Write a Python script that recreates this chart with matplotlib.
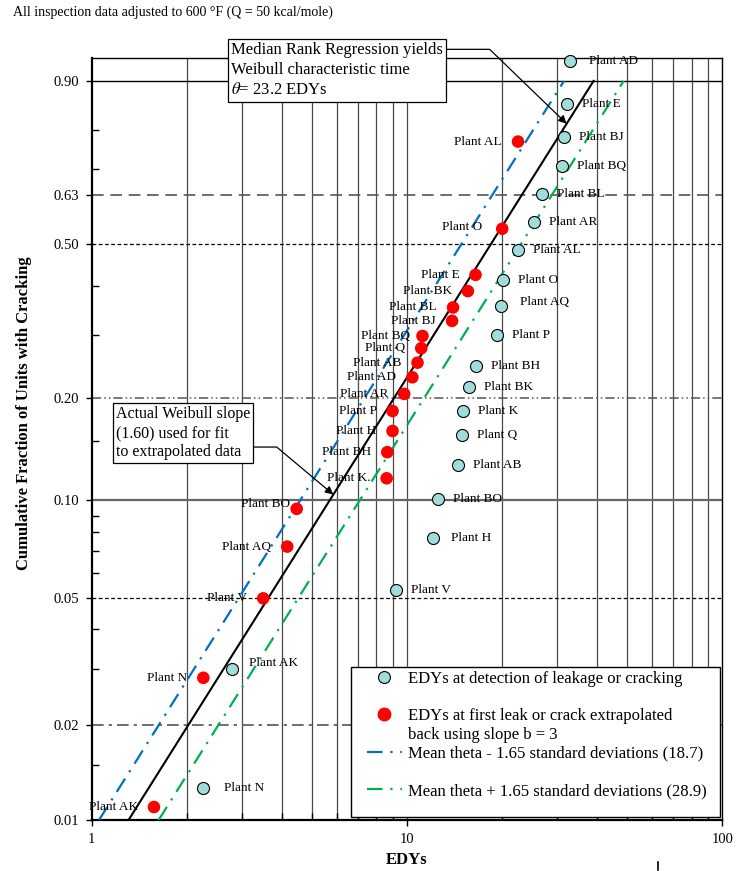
import numpy as np
import matplotlib.pyplot as plt
from matplotlib.lines import Line2D
from matplotlib.patches import Rectangle
from matplotlib.ticker import FixedLocator, NullFormatter, FixedFormatter

plt.rcParams['font.family'] = ['Liberation Serif', 'DejaVu Serif']
plt.rcParams['mathtext.fontset'] = 'stix'

# EDYs at detection of leakage or cracking (cumulative fraction by median rank)
det_plants = ['AD', 'E', 'BJ', 'BQ', 'BL', 'AR', 'AL', 'O', 'AQ', 'P',
              'BH', 'BK', 'K', 'Q', 'AB', 'BO', 'H', 'V', 'AK', 'N']
det_edy = [32.9, 32.2, 31.5, 31.1, 26.9, 25.2, 22.5, 20.1, 19.9, 19.3,
           16.6, 15.7, 15.1, 15.0, 14.5, 12.5, 12.1, 9.2, 2.78, 2.25]
det_frac = [0.930, 0.857, 0.782, 0.708, 0.633, 0.559, 0.486, 0.413, 0.355, 0.299,
            0.247, 0.215, 0.184, 0.157, 0.128, 0.101, 0.077, 0.053, 0.030, 0.0126]

# EDYs at first leak/crack, extrapolated back with slope b = 3
ext_plants = ['AL', 'O', 'E', 'BK', 'BL', 'BJ', 'BQ', 'Q', 'AB', 'AD',
              'AR', 'P', 'H', 'BH', 'K.', 'BO', 'AQ', 'V', 'N', 'AK']
ext_edy = [22.5, 20.05, 16.5, 15.6, 14.0, 13.9, 11.2, 11.1, 10.8, 10.4,
           9.8, 9.0, 9.0, 8.66, 8.62, 4.47, 4.17, 3.50, 2.26, 1.576]
ext_frac = [0.771, 0.540, 0.425, 0.388, 0.353, 0.326, 0.2975, 0.2757, 0.2518, 0.2294,
            0.206, 0.184, 0.161, 0.1395, 0.1166, 0.0943, 0.0723, 0.050, 0.0282, 0.011]

# Weibull fits
beta = 1.60
theta_fit = 23.2
theta_lo = 18.7
theta_hi = 28.9

y_major = [0.01, 0.02, 0.05, 0.10, 0.20, 0.50, 0.63, 0.90]
y_minor = [0.015, 0.03, 0.04, 0.06, 0.07, 0.08, 0.09, 0.15, 0.3, 0.4, 0.7, 0.8]
x_grid = [2, 3, 4, 5, 6, 7, 8, 9, 10, 20, 30, 40, 50, 60, 70, 80, 90]

cyan = '#9FDCDA'
blue = '#0070C0'
green = '#00B050'


def weibull_fwd(f):
    f = np.clip(np.asarray(f, dtype=float), 1e-9, 1 - 1e-9)
    return np.log(-np.log1p(-f))


def weibull_inv(w):
    return -np.expm1(-np.exp(np.asarray(w, dtype=float)))


def weibull_cdf(x, theta):
    return 1 - np.exp(-(np.asarray(x) / theta) ** beta)


def weibull_x(f, theta):
    return theta * (-np.log1p(-np.asarray(f))) ** (1 / beta)


fig = plt.figure(figsize=(7.37, 8.71), dpi=100)
ax = fig.add_axes([0.1244, 0.0585, 0.8556, 0.8745])
ax.set_xscale('log')
ax.set_yscale('function', functions=(weibull_fwd, weibull_inv))
ax.set_xlim(1, 100)
ax.set_ylim(0.01, 0.934)

# vertical grid
for v in x_grid:
    ax.axvline(v, color='#4a4a4a', lw=0.9, zorder=1)

# reference fraction lines
ax.axhline(0.90, color='black', lw=1.0, zorder=1)
ax.axhline(0.63, color='#555555', lw=1.2, ls=(0, (7, 4)), zorder=1)
ax.axhline(0.50, color='black', lw=0.9, ls=(0, (3, 2)), zorder=1)
ax.axhline(0.20, color='#555555', lw=1.1, ls=(0, (6, 2, 1, 2, 1, 2)), zorder=1)
ax.axhline(0.10, color='#666666', lw=1.6, zorder=1)
ax.axhline(0.05, color='black', lw=0.9, ls=(0, (3, 2)), zorder=1)
ax.axhline(0.02, color='#555555', lw=1.2, ls=(0, (7, 3, 2, 3)), zorder=1)

# fitted lines
fr = np.linspace(0.01, 0.90, 200)
dashdot = (0, (7, 3.5, 1, 3.5))
ax.plot(weibull_x(fr, theta_lo), fr, color=blue, lw=1.6, ls=dashdot, zorder=3)
ax.plot(weibull_x(fr, theta_hi), fr, color=green, lw=1.6, ls=dashdot, zorder=3)
ax.plot(weibull_x(fr, theta_fit), fr, color='black', lw=1.5, zorder=3)

# data points
ax.scatter(det_edy, det_frac, s=75, c=cyan, edgecolors='black', linewidths=0.8,
           zorder=4, clip_on=False)
ax.scatter(ext_edy, ext_frac, s=82, c='red', edgecolors='none', zorder=4, clip_on=False)

det_off = {'AD': (19, 0), 'AQ': (19, 4), 'AK': (17, 6), 'N': (21, 0), 'H': (18, 0)}
for name, x, y in zip(det_plants, det_edy, det_frac):
    dx, dy = det_off.get(name, (15, 0))
    ax.annotate('Plant ' + name, (x, y), xytext=(dx, dy), textcoords='offset pixels',
                ha='left', va='center', fontsize=9.5, zorder=5)

ext_off = {'O': (-20, 2), 'BQ': (-12, 0), 'BO': (-7, 5)}
for name, x, y in zip(ext_plants, ext_edy, ext_frac):
    dx, dy = ext_off.get(name, (-16, 0))
    ax.annotate('Plant ' + name, (x, y), xytext=(dx, dy), textcoords='offset pixels',
                ha='right', va='center', fontsize=9.5, zorder=5)

# axes, ticks
ax.set_xticks([1, 10, 100])
ax.xaxis.set_major_formatter(FixedFormatter(['1', '10', '100']))
ax.xaxis.set_minor_formatter(NullFormatter())
ax.set_yticks(y_major)
ax.set_yticklabels(['%.2f' % v for v in y_major])
ax.yaxis.set_minor_locator(FixedLocator(y_minor))
ax.yaxis.set_minor_formatter(NullFormatter())
ax.tick_params(which='major', direction='out', length=4, width=1, labelsize=10.5, pad=5)
ax.tick_params(which='minor', direction='in', length=5, width=1)
for side in ['left', 'bottom']:
    ax.spines[side].set_linewidth(1.6)
for side in ['top', 'right']:
    ax.spines[side].set_linewidth(1.0)

ax.set_xlabel('EDYs', fontsize=12, fontweight='bold')
ax.xaxis.set_label_coords(0.5, -0.042)
ax.set_ylabel('Cumulative Fraction of Units with Cracking', fontsize=12, fontweight='bold')
ax.yaxis.set_label_coords(-0.095, 0.534)

fig.text(13 / 737, 1 - 12 / 871, 'All inspection data adjusted to 600 °F (Q = 50 kcal/mole)',
         fontsize=10, ha='left', va='center')

# callouts
box = dict(boxstyle='square,pad=0.2', fc='white', ec='black', lw=0.9)
x_tip = 32.1
ax.annotate('Median Rank Regression yields\nWeibull characteristic time\n$\\theta$= 23.2 EDYs',
            xy=(x_tip, weibull_cdf(x_tip, theta_fit)), xycoords='data',
            xytext=(231, 871 - 42), textcoords='figure pixels',
            ha='left', va='top', fontsize=12, linespacing=1.35, bbox=box, zorder=6,
            arrowprops=dict(arrowstyle='-|>', color='black', lw=0.9, mutation_scale=12,
                            connectionstyle='angle,angleA=0,angleB=136,rad=0',
                            relpos=(1.0, 0.87), shrinkA=0, shrinkB=0))
x_tip2 = 5.84
ax.annotate('Actual Weibull slope\n(1.60) used for fit\nto extrapolated data',
            xy=(x_tip2, weibull_cdf(x_tip2, theta_fit)), xycoords='data',
            xytext=(116, 871 - 406), textcoords='figure pixels',
            ha='left', va='top', fontsize=11.5, linespacing=1.25, bbox=box, zorder=6,
            arrowprops=dict(arrowstyle='-|>', color='black', lw=0.9, mutation_scale=12,
                            connectionstyle='angle,angleA=0,angleB=140,rad=0',
                            relpos=(1.0, 0.24), shrinkA=0, shrinkB=0))

# legend
ax.add_patch(Rectangle((0.411, 0.0045), 0.585, 0.197, transform=ax.transAxes,
                       fc='white', ec='black', lw=1.0, zorder=6))
blank = Line2D([], [], ls='none')
handles = [
    Line2D([], [], ls='none', marker='o', ms=8.6, mfc=cyan, mec='black', mew=0.8),
    blank,
    Line2D([], [], ls='none', marker='o', ms=9, mfc='red', mec='red'),
    blank,
    Line2D([], [], color=blue, lw=1.6, ls=dashdot),
    blank,
    Line2D([], [], color=green, lw=1.6, ls=dashdot),
]
labels = [
    'EDYs at detection of leakage or cracking',
    ' ',
    'EDYs at first leak or crack extrapolated',
    'back using slope b = 3',
    'Mean theta - 1.65 standard deviations (18.7)',
    ' ',
    'Mean theta + 1.65 standard deviations (28.9)',
]
leg = ax.legend(handles, labels, loc='upper left', bbox_to_anchor=(0.4366, 0.1957),
                frameon=False, borderpad=0, borderaxespad=0, handlelength=2.1,
                handletextpad=0.36, labelspacing=0.16, fontsize=12)
leg.set_zorder(7)

fig.add_artist(Line2D([658 / 737, 658 / 737], [1 - 862 / 871, 1 - 870 / 871],
                      color='black', lw=1.2))

fig.savefig('out.png', dpi=100)
